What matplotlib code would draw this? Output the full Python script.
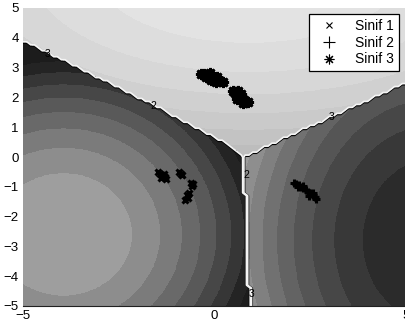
import numpy as np
import matplotlib
matplotlib.use("Agg")
import matplotlib.pyplot as plt

plt.rcParams['font.family'] = ['Liberation Sans', 'DejaVu Sans']

# decision boundaries
lt_x = [-5.0, -1.6, 0.5, 0.76]        # left / top boundary
lt_y = [3.9, 1.74, 0.30, 0.0]
rt_x = [0.76, 5.0]                    # top / right boundary
rt_y = [0.0, 2.48]
lr_y = [-5.0, 0.0]                    # left / right boundary
lr_x = [0.92, 0.76]

# shading of each region: centre, scale, band width, gray at centre, gray step
left_c, left_s = (-3.95, -2.6), (1.0, 1.15)
right_c, right_s = (5.7, -2.8), (1.0, 1.5)
top_c, top_s = (0.9, 6.2), (2.2, 1.3)
band_w = [3.2, 3.3, 3.3]
gray0 = [0.62, 0.17, 0.89]
gray_step = [-0.068, 0.055, -0.025]

# samples
s1_x = [-1.48, -1.42, -1.36, -1.3, -1.26, -1.4, -1.33, -0.93, -0.88, -0.84,
        -0.62, -0.57, -0.6, -0.72, -0.66, -0.7, -0.76]
s1_y = [-0.52, -0.57, -0.62, -0.68, -0.74, -0.7, -0.58, -0.5, -0.56, -0.6,
        -0.86, -0.92, -0.98, -1.28, -1.2, -1.36, -1.44]
s2_x = [2.08, 2.14, 2.2, 2.26, 2.32, 2.38, 2.44, 2.5, 2.56, 2.62, 2.66, 2.18, 2.3, 2.46, 2.58]
s2_y = [-0.86, -0.9, -0.95, -1.0, -1.05, -1.1, -1.16, -1.21, -1.27, -1.33, -1.4, -1.02, -0.98, -1.3, -1.2]
s3_x = [-0.34, -0.27, -0.2, -0.13, -0.06, 0.01, 0.08, 0.15, 0.22, -0.22, -0.08, 0.06, -0.12, 0.04,
        0.48, 0.53, 0.58, 0.63, 0.68, 0.73, 0.78, 0.83, 0.87, 0.58, 0.7, 0.62, 0.75]
s3_y = [2.8, 2.78, 2.75, 2.72, 2.68, 2.64, 2.6, 2.56, 2.52, 2.68, 2.6, 2.7, 2.82, 2.52,
        2.2, 2.14, 2.08, 2.02, 1.98, 1.94, 1.9, 1.86, 1.84, 1.94, 2.1, 2.22, 1.8]

# contour labels on the boundaries
lab_x = [-4.37, -1.6, 3.05, 0.83, 0.97]
lab_y = [3.45, 1.72, 1.33, -0.6, -4.6]
lab_t = ["3", "2", "3", "2", "3"]


def region(X, Y):
    top = (X < 0.76) & (Y > np.interp(X, lt_x, lt_y)) | \
          (X >= 0.76) & (Y > np.interp(X, rt_x, rt_y))
    left = ~top & (X < np.interp(Y, lr_y, lr_x))
    lab = np.where(top, 2, np.where(left, 1, 3))
    return lab


def shade(X, Y, c, s, k):
    q = ((X - c[0]) / s[0]) ** 2 + ((Y - c[1]) / s[1]) ** 2
    g = gray0[k] + gray_step[k] * np.floor(q / band_w[k])
    return np.clip(g, 0.11, 0.9)


xs = np.linspace(-5, 5, 801)
ys = np.linspace(-5, 5, 801)
X, Y = np.meshgrid(xs, ys)
lab = region(X, Y)
Z = np.where(lab == 1, shade(X, Y, left_c, left_s, 0),
             np.where(lab == 3, shade(X, Y, right_c, right_s, 1),
                      shade(X, Y, top_c, top_s, 2)))

fig = plt.figure(figsize=(4.06, 3.32), dpi=100)
ax = fig.add_axes([23 / 406, 26 / 332, 383 / 406, 298 / 332])
ax.imshow(Z, extent=(-5, 5, -5, 5), origin='lower', cmap='gray',
          vmin=0, vmax=1, interpolation='nearest', aspect='auto')

# boundary lines from a coarse label grid
cx = np.linspace(-5, 5, 101)
CX, CY = np.meshgrid(cx, cx)
clab = region(CX, CY).astype(float)
ax.contour(CX, CY, clab, levels=[1.2, 2.8], colors='black', linewidths=0.9)
ax.contour(CX, CY, clab, levels=[1.65, 2.35], colors='#f4f4f4', linewidths=1.2)
for x, y, t in zip(lab_x, lab_y, lab_t):
    ax.text(x, y, t, fontsize=7.5, ha='center', va='center', color='black')

asterisk = (8, 2, 0)
ax.plot(s1_x, s1_y, 'x', color='black', ms=5, mew=2.2, label='Sinif 1')
ax.plot(s2_x, s2_y, '+', color='black', ms=6, mew=2.2, label='Sinif 2')
ax.plot(s3_x, s3_y, marker=asterisk, ls='none', color='black', ms=8, mew=2.0,
        label='Sinif 3')

ax.set_xlim(-5, 5)
ax.set_ylim(-5, 5)
ax.set_xticks([-5, 0, 5])
ax.set_yticks(range(-5, 6))
ax.tick_params(length=0, labelsize=9.5, pad=3)
for sp in ['left', 'top', 'right']:
    ax.spines[sp].set_visible(False)
ax.spines['bottom'].set_color('#202020')

leg = ax.legend(loc='upper right', bbox_to_anchor=(0.982, 0.98), borderaxespad=0,
                fontsize=10, fancybox=False, framealpha=1, edgecolor='black',
                handlelength=2.2, handletextpad=0.8, borderpad=0.35,
                labelspacing=0.2)
leg.get_frame().set_linewidth(0.9)
for h, ms in zip(leg.legend_handles, [5, 9, 7]):
    h.set_markersize(ms)
    h.set_markeredgewidth(0.8)

fig.savefig('out.png', dpi=100)
